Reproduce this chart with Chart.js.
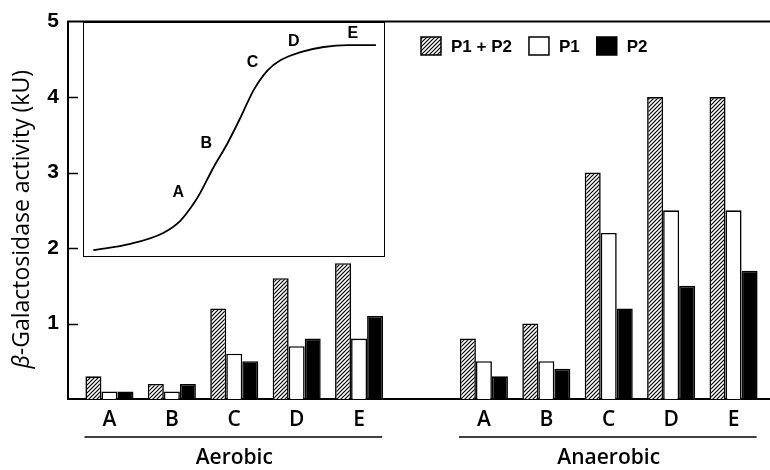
<!DOCTYPE html>
<html>
<head>
<meta charset="utf-8">
<script src="https://cdn.jsdelivr.net/npm/chart.js@4.4.0/dist/chart.umd.min.js"></script>
<style>
  html, body { margin: 0; padding: 0; background: #fff; }
  #wrap { position: relative; width: 770px; height: 470px; }
  #main { position: absolute; left: 0; top: 0; }
  #insetBox { position: absolute; left: 83px; top: 22px; width: 300px; height: 233px;
              border: 1.5px solid #000; background: #fff; }
</style>
</head>
<body>
<div id="wrap">
  <canvas id="main" width="770" height="470"></canvas>
  <div id="insetBox"><canvas id="inset"></canvas></div>
</div>
<script>
// ---- data ----
const categories = ['A', 'B', 'C', 'D', 'E', '', 'A', 'B', 'C', 'D', 'E'];
const seriesNames = ['P1 + P2', 'P1', 'P2'];
const p1p2 = [0.3, 0.2, 1.2, 1.6, 1.8, null, 0.8, 1.0, 3.0, 4.0, 4.0];
const p1   = [0.1, 0.1, 0.6, 0.7, 0.8, null, 0.5, 0.5, 2.2, 2.5, 2.5];
const p2   = [0.1, 0.2, 0.5, 0.8, 1.1, null, 0.3, 0.4, 1.2, 1.5, 1.7];
const yTicks = [0, 1, 2, 3, 4, 5];
const groupNames = ['Aerobic', 'Anaerobic'];
const groupFrom = [0, 6];
const groupTo = [4, 10];
const yTitleGreek = 'β';
const yTitleRest = '-Galactosidase activity (kU)';
// inset growth curve
const insetX = [3.1, 15.4, 26.4, 32.1, 36.5, 38.8, 43.1, 47.8, 52.2, 56.5, 61.2, 65.6, 72.2, 79.9, 88.0, 97.3];
const insetY = [2.5, 5.2, 9.9, 15.1, 22.4, 27.2, 37.9, 48.3, 59.5, 71.1, 79.7, 84.1, 87.5, 89.7, 90.5, 90.5];
const insetLabels = ['A', 'B', 'C', 'D', 'E'];
const insetLabelX = [31.4, 40.8, 56.2, 69.9, 89.6];
const insetLabelY = [27.2, 48.3, 83.2, 92.2, 95.3];

// ---- styles ----
function makeHatch() {
  const c = document.createElement('canvas');
  c.width = 4; c.height = 4;
  const g = c.getContext('2d');
  g.fillStyle = '#fff'; g.fillRect(0, 0, 4, 4);
  g.strokeStyle = '#000'; g.lineWidth = 1.2;
  g.beginPath();
  g.moveTo(0, 4); g.lineTo(4, 0);
  g.moveTo(-1, 1); g.lineTo(1, -1);
  g.moveTo(3, 5); g.lineTo(5, 3);
  g.stroke();
  return g.createPattern(c, 'repeat');
}
const hatch = makeHatch();
const fills = [hatch, '#ffffff', '#000000'];
const seriesData = [p1p2, p1, p2];

const toPts = arr => categories.map((c, i) => ({ x: i, y: arr[i] }));

const datasets = seriesData.map((arr, k) => ({
  label: seriesNames[k],
  data: toPts(arr),
  backgroundColor: fills[k],
  borderColor: '#000',
  borderWidth: 1.6,
  barPercentage: 1.0,
  categoryPercentage: 0.77
}));

const catFont = '600 21px "Open Sans"';

const decorPlugin = {
  id: 'decor',
  afterDraw(chart) {
    const ctx = chart.ctx;
    const a = chart.chartArea;
    const xs = chart.scales.x, ys = chart.scales.y;
    ctx.save();
    ctx.strokeStyle = '#000';
    // top frame line
    ctx.lineWidth = 2;
    ctx.beginPath();
    ctx.moveTo(a.left - 1, a.top);
    ctx.lineTo(a.right, a.top);
    ctx.stroke();
    // inward tick marks
    ctx.lineWidth = 1.5;
    yTicks.forEach(v => {
      if (v <= 0 || v >= 5) return;
      const y = Math.round(ys.getPixelForValue(v)) + 0.5;
      ctx.beginPath();
      ctx.moveTo(a.left, y);
      ctx.lineTo(a.left + 10, y);
      ctx.stroke();
    });
    // group lines and labels
    ctx.fillStyle = '#000';
    ctx.font = catFont;
    ctx.textAlign = 'center';
    ctx.textBaseline = 'middle';
    groupNames.forEach((name, g) => {
      const x0 = xs.getPixelForValue(groupFrom[g] - 0.4);
      const x1 = xs.getPixelForValue(groupTo[g] + 0.37);
      const ly = a.bottom + 38;
      ctx.lineWidth = 1.6;
      ctx.beginPath();
      ctx.moveTo(x0, ly);
      ctx.lineTo(x1, ly);
      ctx.stroke();
      const xm = xs.getPixelForValue((groupFrom[g] + groupTo[g]) / 2);
      ctx.fillText(name, xm, a.bottom + 59);
    });
    // y title
    const greekFont = 'italic 23px "Open Sans"';
    const restFont = '23px "Open Sans"';
    ctx.font = greekFont;
    const wg = ctx.measureText(yTitleGreek).width;
    ctx.font = restFont;
    const wr = ctx.measureText(yTitleRest).width;
    const total = wg + wr;
    ctx.fillStyle = '#000';
    ctx.translate(22, (a.top + a.bottom) / 2 + 9);
    ctx.rotate(-Math.PI / 2);
    ctx.textAlign = 'left';
    ctx.font = greekFont;
    ctx.fillText(yTitleGreek, -total / 2, 0);
    ctx.font = restFont;
    ctx.fillText(yTitleRest, -total / 2 + wg, 0);
    ctx.restore();

    // legend
    ctx.save();
    ctx.font = 'bold 17px "Liberation Sans", Arial, sans-serif';
    ctx.textBaseline = 'middle';
    ctx.textAlign = 'left';
    let lx = 421;
    const ly = 37, bw = 20, bh = 18;
    chart.data.datasets.forEach(ds => {
      ctx.fillStyle = ds.backgroundColor;
      ctx.fillRect(lx, ly, bw, bh);
      ctx.strokeStyle = '#000';
      ctx.lineWidth = 1.5;
      ctx.strokeRect(lx, ly, bw, bh);
      ctx.fillStyle = '#000';
      const tx = lx + bw + 10;
      ctx.fillText(ds.label, tx, ly + bh / 2 + 1);
      lx = tx + ctx.measureText(ds.label).width + 17;
    });
    ctx.restore();
  }
};

new Chart(document.getElementById('main'), {
  type: 'bar',
  data: { datasets },
  options: {
    responsive: false,
    animation: false,
    layout: { padding: { top: 17, left: 0, right: 0, bottom: 0 } },
    plugins: { legend: { display: false }, tooltip: { enabled: false } },
    scales: {
      x: {
        type: 'linear',
        offset: false,
        min: -0.664,
        max: 10.584,
        afterBuildTicks: s => { s.ticks = categories.map((c, i) => ({ value: i })); },
        afterFit: s => { s.height = 71; },
        grid: { display: false, drawTicks: false, offset: false },
        border: { display: true, width: 2, color: '#000' },
        ticks: {
          autoSkip: false, maxRotation: 0, padding: 8,
          color: '#000',
          font: { family: 'Open Sans', size: 21, weight: '600' },
          callback: v => categories[v] ?? ''
        }
      },
      y: {
        min: 0, max: 5,
        afterBuildTicks: s => { s.ticks = yTicks.map(v => ({ value: v })); },
        afterFit: s => { s.width = 68; },
        grid: { display: false, drawTicks: false },
        border: { display: true, width: 2, color: '#000' },
        ticks: {
          padding: 9, color: '#000',
          font: { family: 'Liberation Sans', size: 21, weight: 'bold' },
          callback: v => (v === 0 ? '' : String(v))
        }
      }
    }
  },
  plugins: [decorPlugin]
});

const insetLabelPlugin = {
  id: 'insetLabels',
  afterDraw(chart) {
    const ctx = chart.ctx, xs = chart.scales.x, ys = chart.scales.y;
    ctx.save();
    ctx.font = 'bold 16px "Liberation Sans", Arial, sans-serif';
    ctx.fillStyle = '#000';
    ctx.textAlign = 'center';
    ctx.textBaseline = 'middle';
    insetLabels.forEach((t, i) => {
      ctx.fillText(t, xs.getPixelForValue(insetLabelX[i]), ys.getPixelForValue(insetLabelY[i]));
    });
    ctx.restore();
  }
};

new Chart(document.getElementById('inset'), {
  type: 'line',
  data: {
    datasets: [{
      data: insetX.map((x, i) => ({ x, y: insetY[i] })),
      borderColor: '#000',
      borderWidth: 1.8,
      pointRadius: 0,
      fill: false,
      cubicInterpolationMode: 'monotone'
    }]
  },
  options: {
    responsive: true,
    maintainAspectRatio: false,
    animation: false,
    layout: { padding: 0 },
    plugins: { legend: { display: false }, tooltip: { enabled: false } },
    scales: {
      x: { type: 'linear', min: 0, max: 100, display: false },
      y: { type: 'linear', min: 0, max: 100, display: false }
    }
  },
  plugins: [insetLabelPlugin]
});
</script>
</body>
</html>
